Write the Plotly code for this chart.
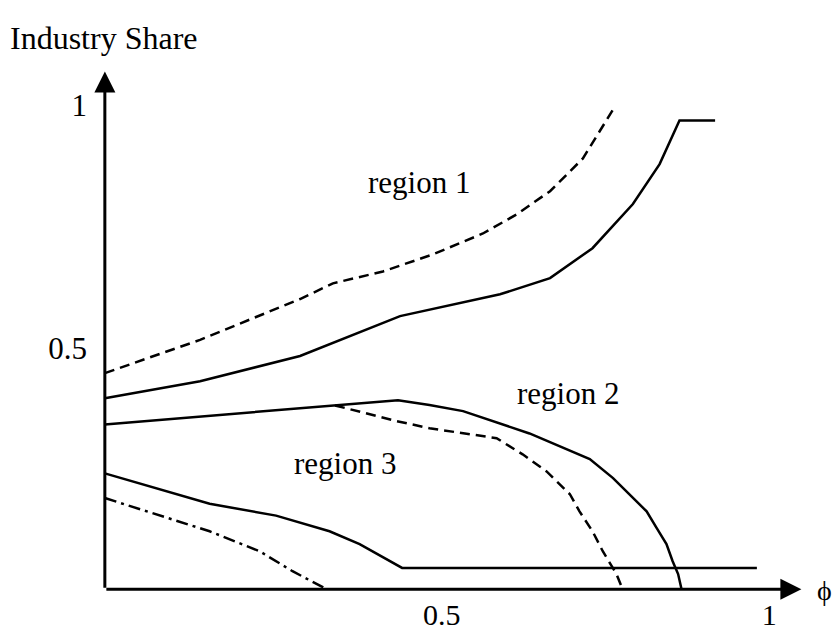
import plotly.graph_objects as go

# region 1 curves
r1_dash_x = [0.0, 0.139, 0.285, 0.333, 0.406, 0.479, 0.552, 0.601, 0.650, 0.698, 0.745]
r1_dash_y = [0.455, 0.525, 0.611, 0.644, 0.669, 0.705, 0.749, 0.789, 0.838, 0.907, 1.017]
r1_solid_x = [0.0, 0.139, 0.285, 0.431, 0.577, 0.650, 0.712, 0.771, 0.810, 0.839, 0.891]
r1_solid_y = [0.402, 0.438, 0.491, 0.575, 0.621, 0.655, 0.718, 0.811, 0.895, 0.987, 0.987]

# region 2 curves
r2_solid_x = [0.0, 0.428, 0.474, 0.523, 0.620, 0.669, 0.708, 0.742, 0.766, 0.791, 0.806, 0.820, 0.829, 0.837, 0.842]
r2_solid_y = [0.347, 0.398, 0.388, 0.375, 0.328, 0.297, 0.274, 0.234, 0.200, 0.164, 0.128, 0.095, 0.059, 0.032, 0.0]
r2_dash_x = [0.336, 0.426, 0.474, 0.572, 0.610, 0.645, 0.679, 0.693, 0.712, 0.727, 0.747, 0.756]
r2_dash_y = [0.387, 0.354, 0.339, 0.318, 0.284, 0.248, 0.200, 0.164, 0.122, 0.080, 0.032, 0.0]

# region 3 curves
r3_solid_x = [0.0, 0.153, 0.250, 0.328, 0.372, 0.434, 0.952]
r3_solid_y = [0.244, 0.180, 0.155, 0.122, 0.095, 0.045, 0.045]
r3_dashdot_x = [0.0, 0.153, 0.226, 0.274, 0.324]
r3_dashdot_y = [0.192, 0.122, 0.080, 0.038, 0.0]

# tick labels sit where they are printed in the picture
x_ticks = [0.492, 0.97]
y_ticks = [0.507, 1.019]
tick_text = ["0.5", "1"]

serif = "Liberation Serif"
fig = go.Figure()

curves = [
    (r1_dash_x, r1_dash_y, "10px,6px"),
    (r1_solid_x, r1_solid_y, "solid"),
    (r2_solid_x, r2_solid_y, "solid"),
    (r2_dash_x, r2_dash_y, "10px,6px"),
    (r3_solid_x, r3_solid_y, "solid"),
    (r3_dashdot_x, r3_dashdot_y, "12px,5px,3px,5px"),
]
for xs, ys, dash in curves:
    fig.add_trace(go.Scatter(x=xs, y=ys, mode="lines",
                             line=dict(color="black", width=2.5, dash=dash),
                             showlegend=False, hoverinfo="skip"))

# axes with arrowheads
fig.add_annotation(x=0, y=1.09, ax=0, ay=0, xref="x", yref="y", axref="x", ayref="y",
                   showarrow=True, arrowhead=2, arrowsize=1.4, arrowwidth=3, arrowcolor="black", text="")
fig.add_annotation(x=1.017, y=0, ax=0, ay=0, xref="x", yref="y", axref="x", ayref="y",
                   showarrow=True, arrowhead=2, arrowsize=1.4, arrowwidth=3, arrowcolor="black", text="")

labels = [
    ("region 1", 0.458, 0.857),
    ("region 2", 0.676, 0.413),
    ("region 3", 0.350, 0.265),
]
for txt, lx, ly in labels:
    fig.add_annotation(x=lx, y=ly, text=txt, showarrow=False, font=dict(family=serif, size=31, color="black"))

fig.add_annotation(x=1.0, y=0.006, xref="paper", yref="paper", text="ϕ", showarrow=False,
                   xanchor="center", yanchor="middle", font=dict(family=serif, size=28, color="black"))
fig.add_annotation(x=-0.124, y=1.045, xref="paper", yref="paper", text="Industry Share", showarrow=False,
                   xanchor="left", yanchor="middle", font=dict(family=serif, size=32, color="black"))

fig.update_xaxes(range=[-0.01, 1.05], tickvals=x_ticks, ticktext=tick_text, showgrid=False,
                 zeroline=False, showline=False, ticks="", ticklabelstandoff=0, automargin=False,
                 tickfont=dict(family=serif, size=30, color="black"))
fig.update_yaxes(range=[-0.01, 1.11], tickvals=y_ticks, ticktext=tick_text, showgrid=False,
                 zeroline=False, showline=False, ticks="", ticklabelstandoff=10, automargin=False,
                 tickfont=dict(family=serif, size=31, color="black"))

fig.update_layout(width=836, height=630, margin=dict(l=98, r=12, t=62, b=36),
                  plot_bgcolor="white", paper_bgcolor="white")

# drop the page's default body margin so the figure fills the window exactly
fig.write_html("out.html", config={"displayModeBar": False},
               post_script="document.body.style.margin='0';")
